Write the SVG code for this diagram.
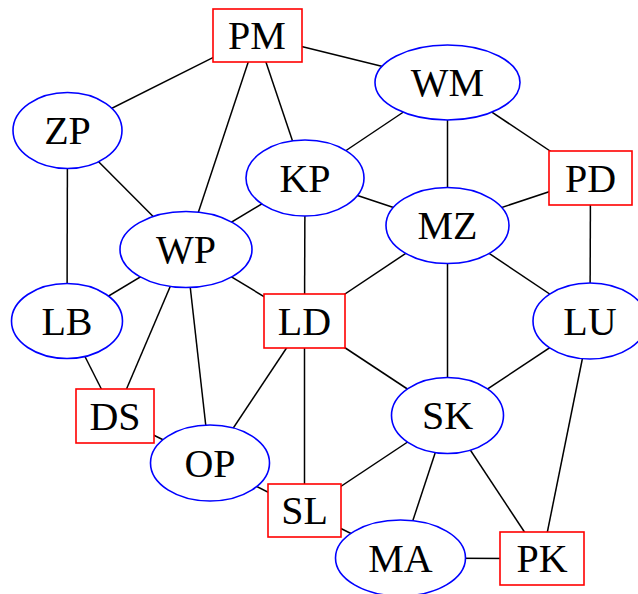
<svg xmlns="http://www.w3.org/2000/svg" width="638" height="594" viewBox="0 0 638 594">
<style>
.e line{stroke:#000;stroke-width:1.5}
.c{fill:#fff;stroke:#0000ff;stroke-width:1.6}
.r{fill:#fff;stroke:#ff0000;stroke-width:1.6}
text{font-family:"Liberation Serif","DejaVu Serif",serif;font-size:40px;text-anchor:middle;fill:#000}
</style>
<rect width="638" height="594" fill="#fff"/>
<g id="edges" class="e">
<line x1="257" y1="35.5" x2="447.5" y2="82.5"/>
<line x1="257" y1="35.5" x2="67.5" y2="130.5"/>
<line x1="257" y1="35.5" x2="305" y2="178"/>
<line x1="257" y1="35.5" x2="186" y2="249.5"/>
<line x1="447.5" y1="82.5" x2="305" y2="178"/>
<line x1="447.5" y1="82.5" x2="447.5" y2="225.5"/>
<line x1="447.5" y1="82.5" x2="590.5" y2="178"/>
<line x1="67.5" y1="130.5" x2="186" y2="249.5"/>
<line x1="67.5" y1="130.5" x2="67" y2="321"/>
<line x1="305" y1="178" x2="186" y2="249.5"/>
<line x1="305" y1="178" x2="447.5" y2="225.5"/>
<line x1="305" y1="178" x2="304.5" y2="321"/>
<line x1="590.5" y1="178" x2="447.5" y2="225.5"/>
<line x1="590.5" y1="178" x2="590" y2="321"/>
<line x1="447.5" y1="225.5" x2="304.5" y2="321"/>
<line x1="447.5" y1="225.5" x2="447.5" y2="415.5"/>
<line x1="447.5" y1="225.5" x2="590" y2="321"/>
<line x1="186" y1="249.5" x2="67" y2="321"/>
<line x1="186" y1="249.5" x2="304.5" y2="321"/>
<line x1="186" y1="249.5" x2="115" y2="416"/>
<line x1="186" y1="249.5" x2="210" y2="463"/>
<line x1="67" y1="321" x2="115" y2="416"/>
<line x1="304.5" y1="321" x2="447.5" y2="415.5"/>
<line x1="304.5" y1="321" x2="210" y2="463"/>
<line x1="304.5" y1="321" x2="304.5" y2="510.5"/>
<line x1="590" y1="321" x2="447.5" y2="415.5"/>
<line x1="590" y1="321" x2="542" y2="558.5"/>
<line x1="115" y1="416" x2="210" y2="463"/>
<line x1="447.5" y1="415.5" x2="304.5" y2="510.5"/>
<line x1="447.5" y1="415.5" x2="400.5" y2="558"/>
<line x1="447.5" y1="415.5" x2="542" y2="558.5"/>
<line x1="210" y1="463" x2="304.5" y2="510.5"/>
<line x1="304.5" y1="510.5" x2="400.5" y2="558"/>
<line x1="400.5" y1="558" x2="542" y2="558.5"/>
</g>
<g id="PM"><rect class="r" x="213" y="9" width="89" height="53"/><text x="257" y="49">PM</text></g>
<g id="WM"><ellipse class="c" cx="447.5" cy="82.5" rx="72.5" ry="37.5"/><text x="447.5" y="96">WM</text></g>
<g id="ZP"><ellipse class="c" cx="67.5" cy="130.5" rx="54.5" ry="38"/><text x="67.5" y="144">ZP</text></g>
<g id="KP"><ellipse class="c" cx="305" cy="178" rx="59" ry="38"/><text x="305" y="191.5">KP</text></g>
<g id="PD"><rect class="r" x="549" y="151" width="83" height="54"/><text x="590.5" y="191.5">PD</text></g>
<g id="MZ"><ellipse class="c" cx="447.5" cy="225.5" rx="61.5" ry="38"/><text x="447.5" y="239">MZ</text></g>
<g id="WP"><ellipse class="c" cx="186" cy="249.5" rx="66" ry="38"/><text x="186" y="263">WP</text></g>
<g id="LB"><ellipse class="c" cx="67" cy="321" rx="55.5" ry="37.5"/><text x="67" y="334.5">LB</text></g>
<g id="LD"><rect class="r" x="264" y="294" width="81" height="54"/><text x="304.5" y="334.5">LD</text></g>
<g id="LU"><ellipse class="c" cx="590" cy="321" rx="57" ry="38"/><text x="590" y="334.5">LU</text></g>
<g id="DS"><rect class="r" x="76" y="389" width="78" height="54"/><text x="115" y="429.5">DS</text></g>
<g id="SK"><ellipse class="c" cx="447.5" cy="415.5" rx="56" ry="38"/><text x="447.5" y="429">SK</text></g>
<g id="OP"><ellipse class="c" cx="210" cy="463" rx="59.5" ry="38"/><text x="210" y="476.5">OP</text></g>
<g id="SL"><rect class="r" x="268" y="484" width="73" height="53"/><text x="304.5" y="524">SL</text></g>
<g id="MA"><ellipse class="c" cx="400.5" cy="558" rx="65" ry="38"/><text x="400.5" y="571.5">MA</text></g>
<g id="PK"><rect class="r" x="500" y="532" width="84" height="53"/><text x="542" y="572">PK</text></g>
</svg>
